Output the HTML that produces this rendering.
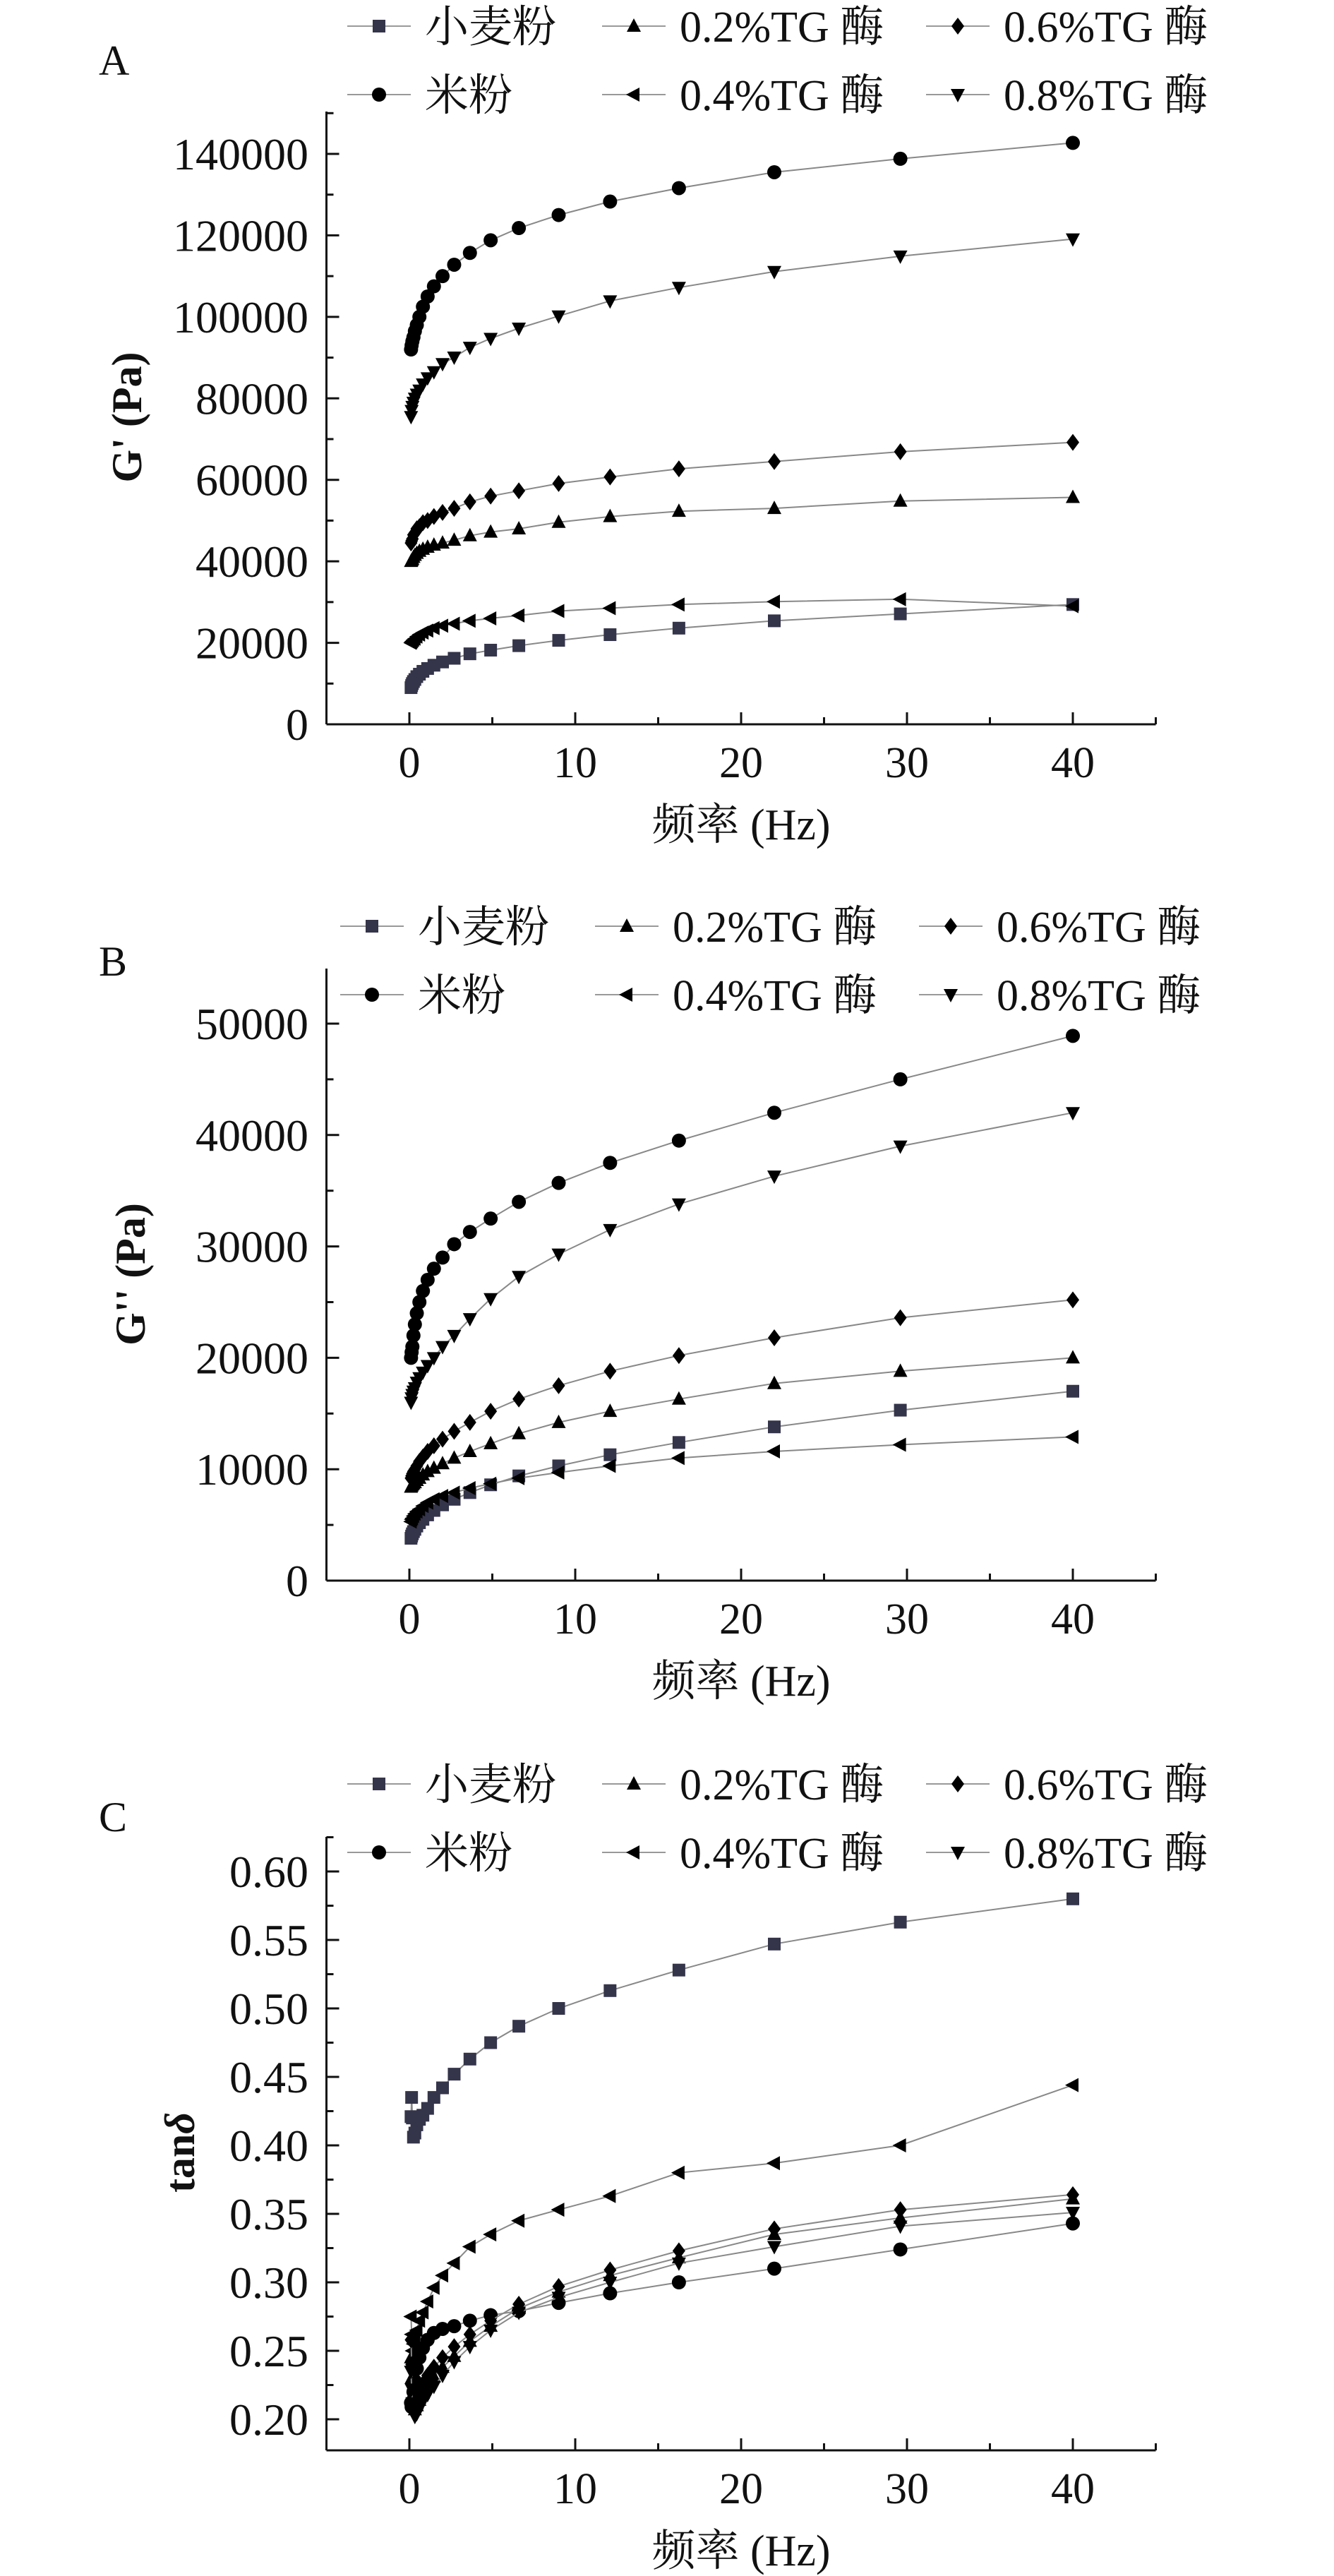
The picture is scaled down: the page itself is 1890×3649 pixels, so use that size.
<!DOCTYPE html>
<html><head><meta charset="utf-8">
<style>
html,body{margin:0;padding:0;background:#fff;}
svg{display:block;}
text{font-family:"Liberation Serif","Noto Serif CJK SC","Noto Sans CJK SC",serif;fill:#111;}
</style></head>
<body>
<svg id="fig" width="1890" height="3649" viewBox="0 0 1890 3649" xmlns="http://www.w3.org/2000/svg"></svg>
<script>
// ---- data ----
const freq = [0.1,0.135,0.182,0.246,0.332,0.448,0.605,0.817,1.10,1.48,2.0,2.7,3.65,4.9,6.6,9.0,12.1,16.25,22.0,29.6,40.0];
const seriesNames = ["小麦粉","米粉","0.2%TG 酶","0.4%TG 酶","0.6%TG 酶","0.8%TG 酶"];
const seriesKeys = ["wheat","rice","tg02","tg04","tg06","tg08"];
const xTicks = [0,10,20,30,40];

const gpWheat = [9000,9500,10000,10500,11000,11700,12300,13000,13700,14500,15300,16200,17300,18200,19300,20600,22000,23600,25400,27100,29400];
const gpRice = [92000,93000,94000,95000,96500,98000,100000,102500,105000,107500,110000,112800,115700,118800,121800,125000,128300,131600,135500,138800,142700];
const gpTg02 = [40000,40200,40500,41000,41500,42000,42500,43000,43500,44000,44500,45200,46300,47200,48000,49600,51000,52300,53000,54800,55700];
const gpTg04 = [20000,20200,20400,20700,21000,21500,22000,22500,23000,23600,24200,24700,25400,26000,26700,27800,28500,29400,30100,30700,29000];
const gpTg06 = [44500,45000,45500,46500,47000,48000,48500,49500,50000,51000,52000,53000,54600,56000,57300,59100,60700,62700,64500,66900,69200];
const gpTg08 = [75500,77000,78000,79000,80000,81000,82000,83500,85000,86500,88500,90100,92500,94700,97200,100200,103900,107200,111100,114900,119100];
const gpTicks = [0,20000,40000,60000,80000,100000,120000,140000];

const gppWheat = [3800,4000,4200,4400,4600,4900,5200,5500,5900,6300,6800,7300,7900,8600,9400,10300,11300,12400,13800,15300,17000];
const gppRice = [20000,20500,21000,22000,23000,24000,25000,26000,27000,28000,29000,30200,31300,32500,34000,35700,37500,39500,42000,45000,48900];
const gppTg02 = [8400,8500,8600,8700,8800,9000,9200,9500,9800,10100,10500,11000,11600,12300,13200,14200,15200,16300,17700,18800,20000];
const gppTg04 = [5300,5500,5600,5800,6000,6200,6400,6700,7000,7300,7600,7900,8300,8700,9200,9700,10300,11000,11600,12200,12900];
const gppTg06 = [9200,9400,9600,9800,10000,10300,10700,11100,11600,12100,12700,13400,14200,15200,16300,17500,18800,20200,21800,23600,25200];
const gppTg08 = [16000,16400,16700,17000,17300,17800,18200,18700,19300,20000,21000,22000,23500,25300,27300,29300,31500,33800,36300,39000,42000];
const gppTicks = [0,10000,20000,30000,40000,50000];

const tdWheat = [0.421,0.435,0.420,0.406,0.409,0.415,0.419,0.422,0.427,0.435,0.442,0.452,0.463,0.475,0.487,0.500,0.513,0.528,0.547,0.563,0.580];
const tdRice = [0.212,0.209,0.213,0.220,0.228,0.237,0.245,0.252,0.258,0.263,0.266,0.268,0.272,0.276,0.279,0.285,0.292,0.300,0.310,0.324,0.343];
const tdTg02 = [0.245,0.230,0.218,0.210,0.207,0.210,0.214,0.219,0.225,0.231,0.238,0.246,0.257,0.268,0.281,0.293,0.305,0.318,0.335,0.347,0.361];
const tdTg04 = [0.275,0.262,0.250,0.255,0.260,0.265,0.272,0.278,0.286,0.296,0.305,0.314,0.326,0.335,0.345,0.353,0.363,0.380,0.387,0.400,0.444];
const tdTg06 = [0.258,0.240,0.225,0.215,0.212,0.216,0.221,0.226,0.232,0.238,0.245,0.253,0.262,0.272,0.284,0.297,0.309,0.323,0.339,0.353,0.364];
const tdTg08 = [0.235,0.222,0.212,0.206,0.202,0.204,0.208,0.213,0.218,0.224,0.232,0.242,0.253,0.265,0.278,0.289,0.300,0.314,0.326,0.341,0.351];
const tdTicks = [0.20,0.25,0.30,0.35,0.40,0.45,0.50,0.55,0.60];

// ---- drawing ----
const NS = "http://www.w3.org/2000/svg";
const svg = document.getElementById("fig");
function el(tag, attrs, parent){
  const e = document.createElementNS(NS, tag);
  for (const k in attrs) e.setAttribute(k, attrs[k]);
  (parent||svg).appendChild(e);
  return e;
}
const X0 = 580, XPX = 23.5; // px per Hz
function xs(v){ return X0 + v*XPX; }
const AXL = xs(-5), AXR = xs(45);

function marker(g, kind, x, y){
  let m;
  if (kind==="wheat"){ m = el("rect",{x:x-9,y:y-9,width:18,height:18,fill:"#34344a"},g); }
  else if (kind==="rice"){ m = el("circle",{cx:x,cy:y,r:10,fill:"#000"},g); }
  else if (kind==="tg02"){ m = el("polygon",{points:`${x},${y-11} ${x+10},${y+8} ${x-10},${y+8}`,fill:"#000"},g); }
  else if (kind==="tg04"){ m = el("polygon",{points:`${x-11},${y} ${x+8},${y-10} ${x+8},${y+10}`,fill:"#000"},g); }
  else if (kind==="tg06"){ m = el("polygon",{points:`${x},${y-12} ${x+9},${y} ${x},${y+12} ${x-9},${y}`,fill:"#000"},g); }
  else { m = el("polygon",{points:`${x-10},${y-8} ${x+10},${y-8} ${x},${y+11}`,fill:"#000"},g); }
  return m;
}

function panel(cfg){
  const g = el("g",{});
  
  
  const ys = v => cfg.y0 + (v - cfg.v0) * cfg.ppu;
  // letter
  const L = el("text",{x:140,y:cfg.letterY,"font-size":60},g);
  L.textContent = cfg.letter;
  
  
  // axes
  const ax = el("g",{},g);
  
  
  el("line",{x1:AXL,y1:cfg.top,x2:AXL,y2:cfg.bottom,stroke:"#111","stroke-width":3},ax);
  el("line",{x1:AXL,y1:cfg.bottom,x2:AXR,y2:cfg.bottom,stroke:"#111","stroke-width":3},ax);
  // x ticks
  for (let v=-5; v<=45; v+=5){
    const major = (v%10===0);
    el("line",{x1:xs(v),y1:cfg.bottom,x2:xs(v),y2:cfg.bottom-(major?17:10),stroke:"#111","stroke-width":3},ax);
  }
  xTicks.forEach(v=>{
    const t = el("text",{x:xs(v),y:cfg.bottom+75,"font-size":62,"text-anchor":"middle"},ax);
    t.textContent = v;
    
    
  });
  // y ticks
  const ticks = cfg.ticks;
  const step = ticks[1]-ticks[0];
  ticks.forEach((v,i)=>{
    const y = ys(v);
    el("line",{x1:AXL,y1:y,x2:AXL+18,y2:y,stroke:"#111","stroke-width":3},ax);
    const ym = ys(v + step/2);
    if (ym > cfg.top) el("line",{x1:AXL,y1:ym,x2:AXL+10,y2:ym,stroke:"#111","stroke-width":3},ax);
    const t = el("text",{x:437,y:y+22,"font-size":64,"text-anchor":"end"},ax);
    t.textContent = cfg.fmt(v);
    
    
  });
  if (ys(ticks[0]-step/2) < cfg.bottom){
    const ym = ys(ticks[0]-step/2);
    el("line",{x1:AXL,y1:ym,x2:AXL+10,y2:ym,stroke:"#111","stroke-width":3},ax);
  }
  // axis titles
  const xt = el("text",{x:1050,y:cfg.bottom+163,"font-size":62,"text-anchor":"middle"},g);
  xt.textContent = "频率 (Hz)";
  
  
  const yt = el("text",{x:0,y:0,"font-size":60,"text-anchor":"middle","font-weight":"bold",transform:`translate(${cfg.ytX},${cfg.ytY}) rotate(-90)`},g);
  if (cfg.isTan){
    yt.textContent = "tan";
    const d = el("tspan",{"font-style":"italic"},yt); d.textContent="δ";
  } else yt.textContent = cfg.ytitle;
  
  
  // series
  cfg.series.forEach((vals,si)=>{
    const sg = el("g",{},g);
    
    
    const pts = vals.map((v,i)=>`${xs(freq[i]).toFixed(1)},${ys(v).toFixed(1)}`).join(" ");
    el("polyline",{points:pts,fill:"none",stroke:"#888","stroke-width":2},sg);
    vals.forEach((v,i)=>{
      const m = marker(sg, seriesKeys[si], xs(freq[i]), ys(v));
      
      
    });
  });
  // legend
  const lg = el("g",{},g);
  
  
  const cols = [cfg.legX, cfg.legX+361, cfg.legX+820];
  const order = [[0,0],[2,1],[4,2],[1,0],[3,1],[5,2]];
  order.forEach((o,k)=>{
    const si=o[0], c=o[1], row = k<3?0:1;
    const y = cfg.legY + row*97;
    const mx = cols[c];
    const eg = el("g",{},lg);
    
    
    el("line",{x1:mx-45,y1:y,x2:mx+45,y2:y,stroke:"#999","stroke-width":2},eg);
    marker(eg, seriesKeys[si], mx, y);
    const t = el("text",{x:mx+65,y:y+22,"font-size":62},eg);
    t.textContent = seriesNames[si];
  });
}

panel({name:"panel-a-storage-modulus",letter:"A",letterY:106,top:158,bottom:1026,y0:1026,v0:0,ppu:(218-1026)/140000,
  ticks:gpTicks,fmt:v=>String(v),ytitle:"G' (Pa)",ytX:200,ytY:591,legX:537,legY:37,
  series:[gpWheat,gpRice,gpTg02,gpTg04,gpTg06,gpTg08]});
panel({name:"panel-b-loss-modulus",letter:"B",letterY:1382,top:1372,bottom:2239,y0:2239,v0:0,ppu:(1450-2239)/50000,
  ticks:gppTicks,fmt:v=>String(v),ytitle:"G'' (Pa)",ytX:205,ytY:1805,legX:527,legY:1312,
  series:[gppWheat,gppRice,gppTg02,gppTg04,gppTg06,gppTg08]});
panel({name:"panel-c-tan-delta",letter:"C",letterY:2594,top:2602,bottom:3471,y0:2651,v0:0.60,ppu:-1940,
  ticks:tdTicks,fmt:v=>v.toFixed(2),isTan:true,ytX:275,ytY:3049,legX:537,legY:2527,
  series:[tdWheat,tdRice,tdTg02,tdTg04,tdTg06,tdTg08]});
</script>
</body></html>
